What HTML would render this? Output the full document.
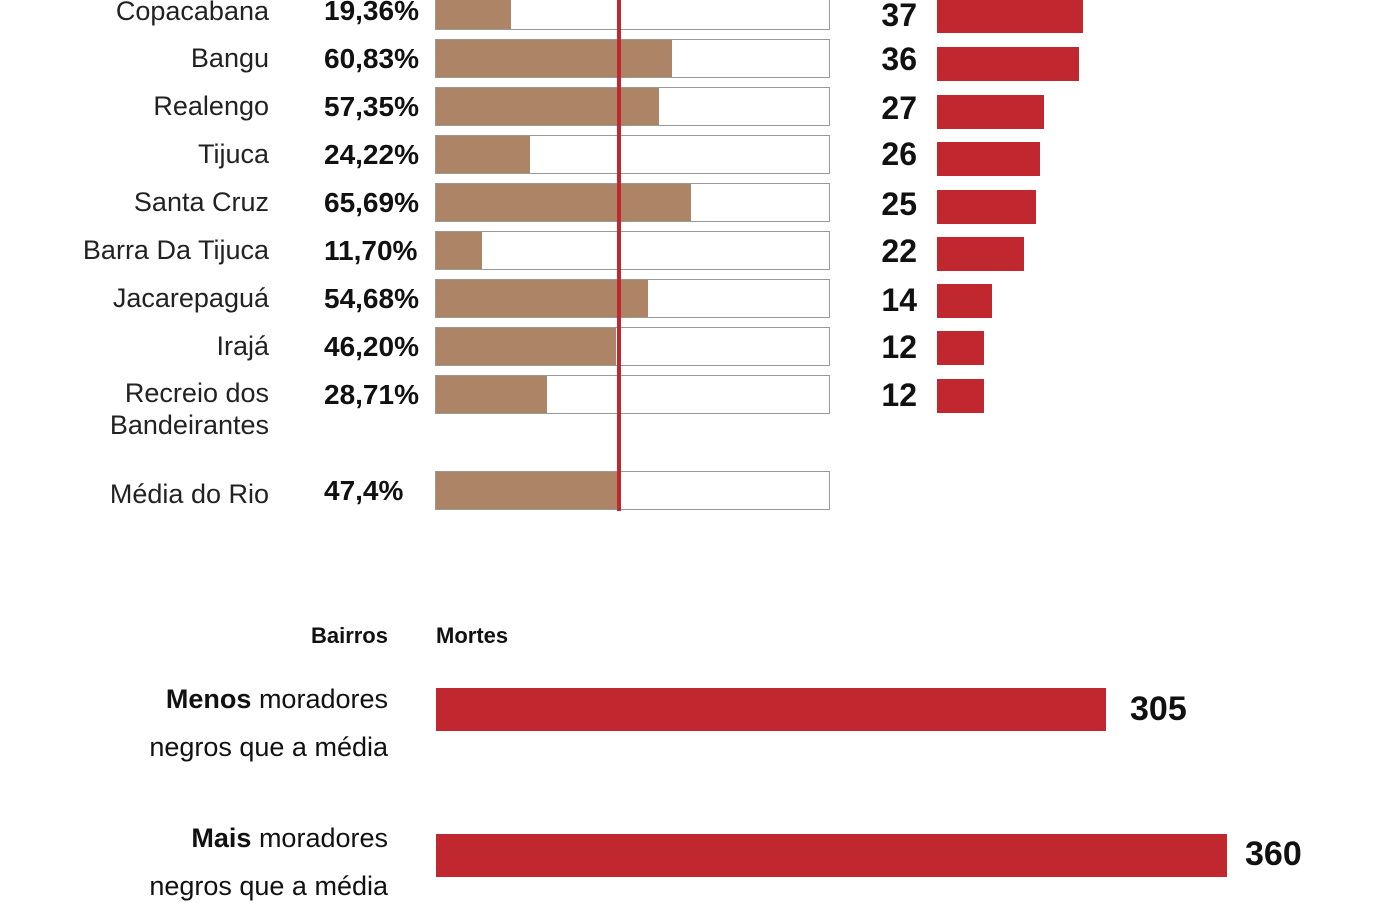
<!DOCTYPE html>
<html><head><meta charset="utf-8"><style>
body{margin:0;width:1400px;height:900px;background:#fff;overflow:hidden;position:relative;font-family:"Liberation Sans",sans-serif;color:#111}
div{position:absolute}
.lab{right:1131px;font-size:27px;font-weight:300;text-align:right;line-height:36px;white-space:nowrap;color:#222}
.pct{left:324px;font-size:28px;font-weight:bold;line-height:36px}
.box{left:435px;width:393px;height:37px;border:1px solid #999;background:#fff}
.fill{left:0;top:0;height:37px;background:#ad8566}
.num{right:483px;font-size:32px;font-weight:bold;line-height:36px;text-align:right}
.rb{left:937px;height:34px;background:#c1272f}
</style></head><body>
<div class="lab" style="top:-7px">Copacabana</div><div class="pct" style="top:-7px">19,36%</div>
<div class="box" style="top:-9px"><div class="fill" style="width:75px"></div></div>
<div class="lab" style="top:40px">Bangu</div><div class="pct" style="top:41px">60,83%</div>
<div class="box" style="top:39px"><div class="fill" style="width:236px"></div></div>
<div class="lab" style="top:88px">Realengo</div><div class="pct" style="top:89px">57,35%</div>
<div class="box" style="top:87px"><div class="fill" style="width:223px"></div></div>
<div class="lab" style="top:136px">Tijuca</div><div class="pct" style="top:137px">24,22%</div>
<div class="box" style="top:135px"><div class="fill" style="width:94px"></div></div>
<div class="lab" style="top:184px">Santa Cruz</div><div class="pct" style="top:185px">65,69%</div>
<div class="box" style="top:183px"><div class="fill" style="width:255px"></div></div>
<div class="lab" style="top:232px">Barra Da Tijuca</div><div class="pct" style="top:233px">11,70%</div>
<div class="box" style="top:231px"><div class="fill" style="width:46px"></div></div>
<div class="lab" style="top:280px">Jacarepaguá</div><div class="pct" style="top:281px">54,68%</div>
<div class="box" style="top:279px"><div class="fill" style="width:212px"></div></div>
<div class="lab" style="top:328px">Irajá</div><div class="pct" style="top:329px">46,20%</div>
<div class="box" style="top:327px"><div class="fill" style="width:180px"></div></div>
<div class="lab" style="top:377px;line-height:32px">Recreio dos<br>Bandeirantes</div><div class="pct" style="top:377px">28,71%</div>
<div class="box" style="top:375px"><div class="fill" style="width:111px"></div></div>
<div class="lab" style="top:476px">Média do Rio</div><div class="pct" style="top:473px">47,4%</div>
<div class="box" style="top:471px"><div class="fill" style="width:183px"></div></div>
<div style="left:617px;top:0;width:4px;height:511px;background:#c1272f"></div>

<div class="num" style="top:-3px">37</div><div class="rb" style="top:-1px;width:146px"></div>
<div class="num" style="top:41px">36</div><div class="rb" style="top:47px;width:142px"></div>
<div class="num" style="top:90px">27</div><div class="rb" style="top:95px;width:107px"></div>
<div class="num" style="top:136px">26</div><div class="rb" style="top:142px;width:103px"></div>
<div class="num" style="top:186px">25</div><div class="rb" style="top:190px;width:99px"></div>
<div class="num" style="top:233px">22</div><div class="rb" style="top:237px;width:87px"></div>
<div class="num" style="top:282px">14</div><div class="rb" style="top:284px;width:55px"></div>
<div class="num" style="top:329px">12</div><div class="rb" style="top:331px;width:47px"></div>
<div class="num" style="top:377px">12</div><div class="rb" style="top:379px;width:47px"></div>

<div style="right:1012px;top:622px;font-size:22px;font-weight:bold;line-height:28px">Bairros</div>
<div style="left:436px;top:622px;font-size:22px;font-weight:bold;line-height:28px">Mortes</div>
<div style="right:1012px;top:675px;font-size:27px;font-weight:300;line-height:48px;text-align:right;white-space:nowrap"><b style="font-weight:bold">Menos</b> moradores<br>negros que a média</div>
<div style="left:436px;top:688px;width:670px;height:43px;background:#c1272f"></div>
<div style="left:1130px;top:688px;font-size:34px;font-weight:bold;line-height:42px">305</div>
<div style="right:1012px;top:814px;font-size:27px;font-weight:300;line-height:48px;text-align:right;white-space:nowrap"><b style="font-weight:bold">Mais</b> moradores<br>negros que a média</div>
<div style="left:436px;top:834px;width:791px;height:43px;background:#c1272f"></div>
<div style="left:1245px;top:833px;font-size:34px;font-weight:bold;line-height:42px">360</div>
</body></html>
